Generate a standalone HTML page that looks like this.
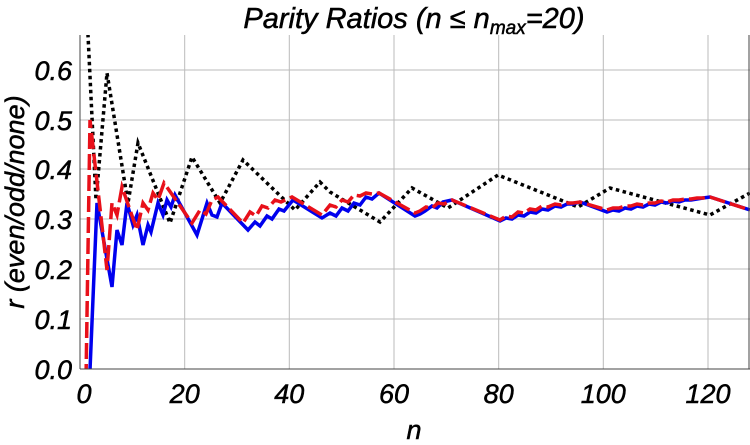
<!DOCTYPE html><html><head><style>body{margin:0;background:#fff}svg{display:block}</style></head><body>
<svg width="750" height="445" xmlns="http://www.w3.org/2000/svg" font-family="Liberation Sans, sans-serif" font-style="italic">
<g stroke="#bbb" stroke-width="1">
<line x1="184.7" y1="35" x2="184.7" y2="369"/><line x1="289.3" y1="35" x2="289.3" y2="369"/><line x1="394" y1="35" x2="394" y2="369"/><line x1="498.7" y1="35" x2="498.7" y2="369"/><line x1="603.3" y1="35" x2="603.3" y2="369"/><line x1="708" y1="35" x2="708" y2="369"/>
<line x1="80" y1="319" x2="750" y2="319"/><line x1="80" y1="269" x2="750" y2="269"/><line x1="80" y1="219" x2="750" y2="219"/><line x1="80" y1="169" x2="750" y2="169"/><line x1="80" y1="120" x2="750" y2="120"/><line x1="80" y1="70" x2="750" y2="70"/>
</g>
<defs><clipPath id="c"><rect x="80" y="35" width="670" height="334"/></clipPath></defs>
<g clip-path="url(#c)" fill="none" stroke-linejoin="miter">
<polyline stroke="#000" stroke-width="3.5" stroke-dasharray="3.5,3.5" points="86,20 88,35 96,200 107,73 128,203 138,143 170,223 192,157 220,203 243,160 295,210 320,182 330,192 380,222 412,188 448,208 498,175 578,207 610,188 710,215 750,193"/>
<polyline stroke="#0000ee" stroke-width="3.5" points="88,380 90,370 97,203 112,287 117,230 122,245 127,203 133,225 137,215 143,245 148,225 151,232 158,203 163,215 167,200 171,207 175,195 197,235 207,203 212,215 217,217 222,203 248,230 255,222 260,226 267,216 272,219 279,209 284,211 293,200 322,218 330,213 336,216 342,208 348,211 354,203 360,205 366,197 372,199 379,193 415,216 420,214 425,211 432,206 437,208 443,202 452,200 500,221 506,218 512,219 518,215 524,216 530,212 536,213 542,209 548,210 555,206 561,207 567,204 573,204 580,202 607,212 613,210 619,211 625,208 631,209 637,206 643,207 649,204 655,205 661,202 667,203 673,201 679,202 685,200 691,200 697,199 703,198 710,197 750,210"/>
<polyline stroke="#e8101a" stroke-width="3.5" stroke-dasharray="16,5" points="86,380 90,120 107,270 112,203 117,215 122,187 130,210 137,230 143,203 148,210 153,193 158,200 164,183 192,223 200,210 206,214 212,200 218,197 243,223 250,212 256,216 262,206 268,208 275,200 281,202 292,197 322,215 330,205 336,207 342,200 348,202 354,195 360,196 366,193 372,194 379,193 415,213 420,211 426,207 432,208 438,203 444,204 452,200 500,220 506,216 512,217 518,212 524,213 530,209 536,210 542,206 548,207 555,204 561,205 567,203 573,203 580,202 607,210 613,208 619,208 625,206 631,206 637,204 643,205 649,203 655,203 661,201 667,202 673,200 679,200 685,199 691,199 697,198 703,198 710,197 750,210"/>
</g>
<g stroke="#444" stroke-width="1" fill="none"><line x1="80" y1="35" x2="80" y2="369"/><line x1="80" y1="369" x2="750" y2="369"/><line x1="749" y1="35" x2="749" y2="369"/></g>
<g font-size="27" fill="#000" text-anchor="end" stroke="#000" stroke-width="0.5">
<text x="72" y="379">0.0</text><text x="72" y="329">0.1</text><text x="72" y="279">0.2</text><text x="72" y="229">0.3</text><text x="72" y="179">0.4</text><text x="72" y="130">0.5</text><text x="72" y="80">0.6</text>
</g>
<g font-size="27" fill="#000" text-anchor="middle" stroke="#000" stroke-width="0.5">
<text x="84" y="403">0</text><text x="184.7" y="403">20</text><text x="289.3" y="403">40</text><text x="394" y="403">60</text><text x="498.7" y="403">80</text><text x="603.3" y="403">100</text><text x="708" y="403">120</text>
<text x="414" y="439">n</text>
<text x="414" y="28" font-size="29">Parity Ratios (n ≤ n<tspan font-size="19" dy="6">max</tspan><tspan dy="-6">=20)</tspan></text>
<text transform="translate(24,202) rotate(-90)">r (even/odd/none)</text>
</g>
</svg></body></html>
